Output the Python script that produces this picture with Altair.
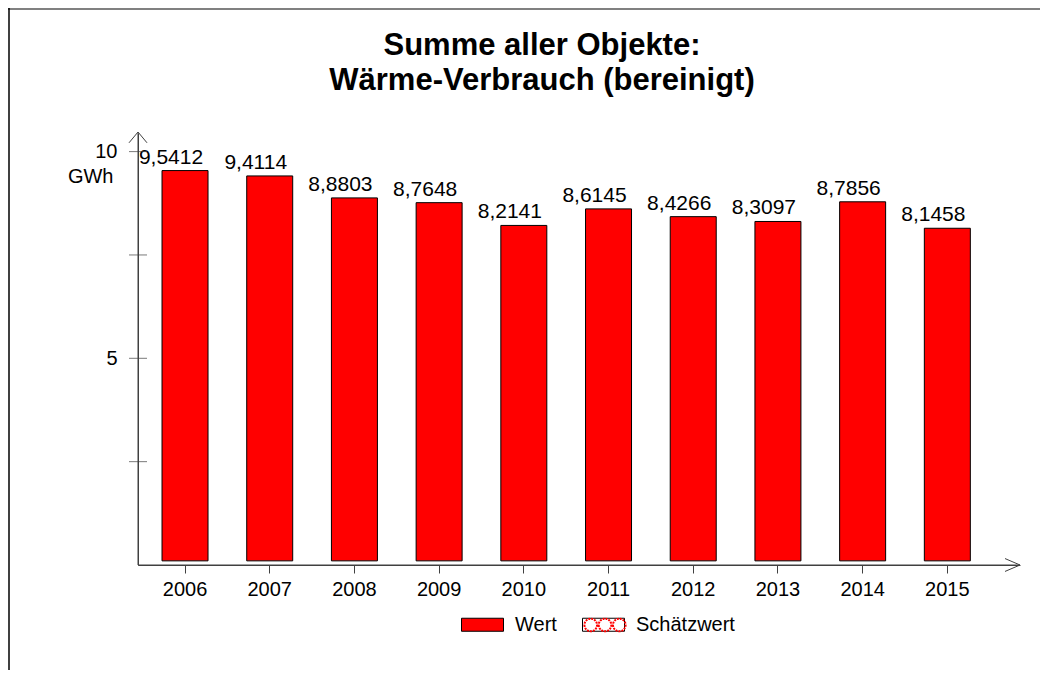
import altair as alt
import pandas as pd

# ---- data ----
years = ["2006", "2007", "2008", "2009", "2010", "2011", "2012", "2013", "2014", "2015"]
values = [9.5412, 9.4114, 8.8803, 8.7648, 8.2141, 8.6145, 8.4266, 8.3097, 8.7856, 8.1458]
y_tick_values = [2.5, 5, 7.5, 10]
legend_entries = ["Wert", "Schätzwert"]
title_lines = ["Summe aller Objekte:", "Wärme-Verbrauch (bereinigt)"]

FONT = "Liberation Sans"
W, H = 882, 432
PAD_L, PAD_T, PAD_R, PAD_B = 130, 125, 20, 105

df = pd.DataFrame({
    "Jahr": years,
    "Wert": values,
    "Label": [f"{v:.4f}".replace(".", ",") for v in values],
    "typ": ["Wert"] * len(years),
})
df_ticks = pd.DataFrame({"v": y_tick_values})
df_one = pd.DataFrame({"s": ["Schätzwert"]})

xscale = alt.Scale(domain=years, paddingInner=0.457, paddingOuter=0.435, align=0.326)
yscale = alt.Scale(domain=[0, 10.45], nice=False, zero=True)

AX = "#404040"
LEG_Y = 470

x_enc = alt.X("Jahr:N", scale=xscale, sort=years,
              axis=alt.Axis(title=None, labelAngle=0, labelFont=FONT, labelFontSize=20,
                            labelColor="black", tickSize=8, tickColor=AX, domainColor=AX,
                            labelPadding=6, grid=False))
y_enc = alt.Y("Wert:Q", scale=yscale,
              axis=alt.Axis(values=y_tick_values, grid=False, ticks=False, tickSize=0,
                            labelExpr="datum.value == 10 ? '10' : (datum.value == 5 ? '5' : '')",
                            labelFont=FONT, labelFontSize=20, labelColor="black",
                            labelPadding=21, domainColor=AX,
                            title="GWh", titleAngle=0, titleAlign="right", titleBaseline="middle",
                            titleX=-25, titleY=43, titleFont=FONT, titleFontSize=20,
                            titleFontWeight="normal", titleColor="black"))

circles_path = ("M-0.98,0 a0.3,0.3 0 1,0 0.6,0 a0.3,0.3 0 1,0 -0.6,0 "
                "M-0.3,0 a0.3,0.3 0 1,0 0.6,0 a0.3,0.3 0 1,0 -0.6,0 "
                "M0.38,0 a0.3,0.3 0 1,0 0.6,0 a0.3,0.3 0 1,0 -0.6,0")
rect_path = "M-1,-0.31H1V0.31H-1Z"

bars = alt.Chart(df).mark_bar(stroke="black", strokeWidth=1).encode(
    x=x_enc,
    y=y_enc,
    y2=alt.datum(0.1),
    color=alt.Color("typ:N", scale=alt.Scale(domain=legend_entries, range=["#ff0000", "#ffffff"]),
                    legend=alt.Legend(orient="none", legendX=323, legendY=LEG_Y, direction="horizontal",
                                      title=None, symbolType=rect_path, symbolSize=1764,
                                      symbolStrokeColor="black", symbolStrokeWidth=1,
                                      symbolOpacity=1, labelFont=FONT, labelFontSize=20,
                                      labelColor="black", labelOffset=11, columnPadding=23,
                                      padding=0)),
)

labels = alt.Chart(df).mark_text(font=FONT, fontSize=21, color="black", baseline="alphabetic",
                                 dx=-14, dy=-7).encode(
    x=alt.X("Jahr:N", scale=xscale, sort=years),
    y=alt.Y("Wert:Q", scale=yscale),
    text="Label:N",
)

yticks = alt.Chart(df_ticks).mark_tick(orient="horizontal", size=18, thickness=1, color=AX).encode(
    y=alt.Y("v:Q", scale=yscale),
    x=alt.value(0),
)

est_pattern = alt.Chart(df_one).mark_point(opacity=0).encode(
    x=alt.value(0), y=alt.value(0),
    shape=alt.Shape("s:N", scale=alt.Scale(domain=["Schätzwert"], range=[circles_path]),
                    legend=alt.Legend(orient="none", legendX=445, legendY=LEG_Y, title=None,
                                      symbolSize=1764, symbolStrokeColor="#ff0000",
                                      symbolFillColor="transparent", symbolStrokeWidth=2,
                                      symbolDash=[2, 1], symbolOpacity=1, labelExpr="''",
                                      padding=0)),
)

y_arrow = alt.Chart(df_one).mark_point(shape="M-1,1.2L0,0L1,1.2", size=324, filled=False,
                                       stroke=AX, strokeWidth=1, opacity=1).encode(
    x=alt.value(0), y=alt.value(-1))
x_arrow = alt.Chart(df_one).mark_point(shape="M-1,-0.43L0,0L-1,0.43", size=900, filled=False,
                                       stroke=AX, strokeWidth=1, opacity=1).encode(
    x=alt.value(W), y=alt.value(H))
x_line = alt.Chart(df_one).mark_rule(color=AX, strokeWidth=1).encode(
    x=alt.value(0), x2=alt.value(W), y=alt.value(H))
y_line = alt.Chart(df_one).mark_rule(color=AX, strokeWidth=1).encode(
    x=alt.value(0), y=alt.value(0), y2=alt.value(H))

frame_top = alt.Chart(df_one).mark_rule(color="#808080", strokeWidth=2).encode(
    x=alt.value(-PAD_L), x2=alt.value(W + PAD_R), y=alt.value(-PAD_T + 1))
frame_left = alt.Chart(df_one).mark_rule(color="black", strokeWidth=1.5).encode(
    x=alt.value(-PAD_L + 1), y=alt.value(-PAD_T), y2=alt.value(H + PAD_B))

title = alt.Chart(df_one).mark_text(font=FONT, fontSize=31, fontWeight="bold", color="black",
                                    align="center", baseline="alphabetic", lineHeight=35).encode(
    x=alt.value(404), y=alt.value(-78), text=alt.value(title_lines))

chart = alt.layer(
    frame_top, frame_left, title, bars, labels, yticks, x_line, y_line, y_arrow, x_arrow, est_pattern
).resolve_scale(shape="independent").properties(
    width=W, height=H,
    autosize=alt.AutoSizeParams(type="none"),
    padding={"left": PAD_L, "top": PAD_T, "right": PAD_R, "bottom": PAD_B},
).configure(background="white").configure_view(stroke=None)

chart.save("out.html", embed_options={"renderer": "svg", "actions": False})
